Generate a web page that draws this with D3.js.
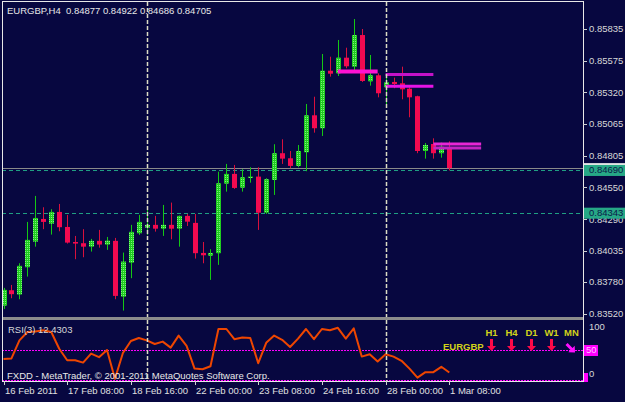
<!DOCTYPE html>
<html>
<head>
<meta charset="utf-8">
<script src="https://cdn.jsdelivr.net/npm/d3@7"></script>
<style>
html, body { margin: 0; padding: 0; background: #070740; }
svg { display: block; }
text { font-family: "Liberation Sans", Arial, sans-serif; }
</style>
</head>
<body>
<svg id="chart" width="625" height="402"></svg>
<script>
// ── Data ────────────────────────────────────────────────────────────────────
const titleText = "EURGBP,H4  0.84877 0.84922 0.84686 0.84705";

const opens  = [0.83588,0.83713,0.83678,0.83900,0.84108,0.84292,0.84254,0.84349,0.84227,0.84105,
                0.84095,0.84067,0.84114,0.84084,0.84114,0.83661,0.83937,0.84176,0.84222,0.84244,
                0.84213,0.84244,0.84213,0.84317,0.84260,0.84016,0.83994,0.84014,0.84579,0.84658,
                0.84546,0.84625,0.84636,0.84343,0.84609,0.84826,0.84785,0.84723,0.84834,0.85134,
                0.85029,0.85496,0.85475,0.85602,0.85529,0.85786,0.85410,0.85459,0.85362,0.85405,
                0.85394,0.85350,0.85289,0.84844,0.84901,0.84826,0.84877];
const highs  = [0.83732,0.83756,0.83932,0.84268,0.84479,0.84387,0.84371,0.84414,0.84325,0.84154,
                0.84209,0.84130,0.84203,0.84146,0.84138,0.84019,0.84244,0.84325,0.84371,0.84317,
                0.84406,0.84425,0.84320,0.84333,0.84333,0.84105,0.84046,0.84676,0.84739,0.84731,
                0.84696,0.84712,0.84712,0.84623,0.84899,0.84939,0.84844,0.84893,0.85226,0.85285,
                0.85632,0.85610,0.85746,0.85683,0.85916,0.85835,0.85624,0.85475,0.85475,0.85440,
                0.85529,0.85362,0.85293,0.84909,0.84947,0.84912,0.84922];
const lows   = [0.83561,0.83648,0.83640,0.83824,0.84067,0.84209,0.84165,0.84192,0.84092,0.83965,
                0.83981,0.84027,0.84059,0.84041,0.83640,0.83548,0.83811,0.84162,0.84162,0.84189,
                0.84154,0.84127,0.84067,0.84235,0.83970,0.83932,0.83797,0.83919,0.84514,0.84536,
                0.84514,0.84587,0.84203,0.84333,0.84487,0.84739,0.84704,0.84712,0.84680,0.84993,
                0.84966,0.85448,0.85453,0.85516,0.85480,0.85405,0.85375,0.85280,0.85204,0.85354,
                0.85264,0.85118,0.84826,0.84782,0.84782,0.84790,0.84686];
const closes = [0.83716,0.83681,0.83911,0.84122,0.84300,0.84268,0.84349,0.84225,0.84100,0.84092,
                0.84067,0.84114,0.84084,0.84116,0.83667,0.83946,0.84187,0.84268,0.84244,0.84213,
                0.84244,0.84213,0.84317,0.84270,0.84014,0.83997,0.84016,0.84582,0.84658,0.84544,
                0.84631,0.84636,0.84343,0.84615,0.84826,0.84782,0.84723,0.84844,0.85134,0.85029,
                0.85496,0.85472,0.85602,0.85532,0.85786,0.85413,0.85459,0.85313,0.85402,0.85388,
                0.85345,0.85280,0.84844,0.84893,0.84826,0.84879,0.84705];

const rsiValues = [35,36,66,80,81,83,80,52,33,33,29,44,38,50,2,45,65,70,66,60,
                   64,54,74,57,19,18,23,85,85,68,71,70,28,62,74,67,55,69,85,68,
                   85,83,87,69,86,39,43,31,43,39,32,19,4,13,13,22,12.4303];

const priceTicks = [0.85835,0.85575,0.85320,0.85065,0.84805,0.84550,0.84290,0.84035,0.83780,0.83520];
const dateTickIdx = [0, 8, 16, 24, 32, 40, 48, 56];
const dateLabels  = ["16 Feb 2011","17 Feb 08:00","18 Feb 16:00","22 Feb 00:00",
                     "23 Feb 08:00","24 Feb 16:00","28 Feb 00:00","1 Mar 08:00"];

const bidPrice   = 0.84705;
const hLinePrices = [0.84690, 0.84343];
const vLineIdx    = [18, 48];

// horizontal level segments drawn by an indicator: from bar, to bar, price
const segStart  = [42, 48, 48, 54, 54];
const segEnd    = [47, 54, 54, 60, 60];
const segPrices = [0.85490, 0.85466, 0.85370, 0.84901, 0.84869];

const rsiLabel   = "RSI(3) 12.4303";
const rsiLevels  = [50, 0];
const rsiTicks   = ["100", "50", "0"];
const copyright  = "FXDD - MetaTrader, \u00a9 2001-2011 MetaQuotes Software Corp.";
const tfLabels   = ["H1", "H4", "D1", "W1", "MN"];
const tfSignals  = ["down", "down", "down", "down", "downright"];
const pairName   = "EURGBP";

// ── Layout ──────────────────────────────────────────────────────────────────
const BG = "#070740";
const L = 2, R = 583, T = 2, MAIN_B = 317, RSI_T = 320, RSI_B = 381;

const svg = d3.select("#chart");
svg.append("rect").attr("width", 625).attr("height", 402).attr("fill", BG);

const defs = svg.append("defs");
const pat = defs.append("pattern").attr("id", "bull").attr("patternUnits", "userSpaceOnUse")
    .attr("width", 2).attr("height", 2);
pat.append("rect").attr("width", 2).attr("height", 2).attr("fill", "#1fcc1f");
pat.append("rect").attr("x", 1).attr("y", 1).attr("width", 1).attr("height", 1).attr("fill", "#7ef07e");

defs.append("clipPath").attr("id", "clipMain").append("rect")
    .attr("x", L).attr("y", T).attr("width", R - L).attr("height", MAIN_B - T);
defs.append("clipPath").attr("id", "clipRsi").append("rect")
    .attr("x", L).attr("y", RSI_T).attr("width", R - L).attr("height", RSI_B - RSI_T);

const x = d3.scaleLinear().domain([0, 56]).range([3.5, 449.3]);
const y = d3.scaleLinear().domain([0.83520, 0.85835]).range([314, 29]);
const yr = d3.scaleLinear().domain([0, 100]).range([380, 320]);

const bars = opens.map((o, i) => ({ i, o, h: highs[i], l: lows[i], c: closes[i] }));

// ── Main window ─────────────────────────────────────────────────────────────
const gMain = svg.append("g").attr("clip-path", "url(#clipMain)");

// bid line
gMain.append("line").attr("x1", L).attr("x2", R)
    .attr("y1", Math.round(y(bidPrice)) + 0.5).attr("y2", Math.round(y(bidPrice)) + 0.5)
    .attr("stroke", "#8a8a8a");

// dashed horizontal lines
gMain.selectAll(".hl").data(hLinePrices).join("line")
    .attr("x1", L).attr("x2", R)
    .attr("y1", d => Math.round(y(d)) + 0.5).attr("y2", d => Math.round(y(d)) + 0.5)
    .attr("stroke", "#1f9f82").attr("stroke-dasharray", "4,3");

// wicks
gMain.selectAll(".wick").data(bars).join("line")
    .attr("x1", d => Math.round(x(d.i)) + 0.5).attr("x2", d => Math.round(x(d.i)) + 0.5)
    .attr("y1", d => y(d.h)).attr("y2", d => y(d.l))
    .attr("stroke", d => d.c >= d.o ? "#14c814" : "#d8103c").attr("stroke-width", 1);

// bodies
gMain.selectAll(".body").data(bars).join("rect")
    .attr("x", d => Math.round(x(d.i)) - 2)
    .attr("width", 5)
    .attr("y", d => y(Math.max(d.o, d.c)))
    .attr("height", d => Math.max(1.2, Math.abs(y(d.o) - y(d.c))))
    .attr("fill", d => d.c >= d.o ? "url(#bull)" : "#f20a50");

// indicator level segments
const segColors = ["#ff12d2", "#c412c8", "#e614e6", "#e826d6", "#c424c4"];
const segWidths = [4, 3, 3, 3, 3];
gMain.selectAll(".seg").data(segPrices).join("line")
    .attr("x1", (d, k) => x(segStart[k])).attr("x2", (d, k) => x(segEnd[k]))
    .attr("y1", d => y(d)).attr("y2", d => y(d))
    .attr("stroke", (d, k) => segColors[k]).attr("stroke-width", (d, k) => segWidths[k]);

// title
svg.append("text").attr("x", 7).attr("y", 13.5).attr("fill", "#e8e8e8")
    .attr("font-size", 9.5).attr("xml:space", "preserve").text(titleText);

// ── RSI window ──────────────────────────────────────────────────────────────
const gRsi = svg.append("g").attr("clip-path", "url(#clipRsi)");
gRsi.selectAll(".lvl").data(rsiLevels).join("line")
    .attr("x1", L).attr("x2", R)
    .attr("y1", d => Math.round(yr(d)) + 0.5).attr("y2", d => Math.round(yr(d)) + 0.5)
    .attr("stroke", "#ff00ff").attr("stroke-dasharray", "2,1");

gRsi.append("path").datum(rsiValues)
    .attr("d", d3.line().x((d, i) => x(i)).y(d => yr(d)))
    .attr("fill", "none").attr("stroke", "#ee4600").attr("stroke-width", 2)
    .attr("stroke-linejoin", "round");

svg.append("text").attr("x", 8).attr("y", 333).attr("fill", "#d8d8d8")
    .attr("font-size", 9.5).text(rsiLabel);
svg.append("text").attr("x", 7).attr("y", 379).attr("fill", "#e8e8e8")
    .attr("font-size", 9.5).text(copyright);

// multi-timeframe signal panel
const tfx = d3.scalePoint().domain(tfLabels).range([491.5, 571.5]);
svg.selectAll(".tf").data(tfLabels).join("text")
    .attr("x", d => tfx(d)).attr("y", 336).attr("text-anchor", "middle")
    .attr("fill", "#d2d21a").attr("font-size", 9.5).attr("font-weight", "bold").text(d => d);
svg.append("text").attr("x", 443).attr("y", 350).attr("fill", "#d2d21a")
    .attr("font-size", 9.5).attr("font-weight", "bold").text(pairName);
svg.selectAll(".arrow").data(tfLabels).join("path")
    .attr("transform", (d, k) => tfSignals[k] === "down"
        ? `translate(${tfx(d)},346)` : `translate(${tfx(d)},349) rotate(-45)`)
    .attr("d", "M-1.5,-7 L1.5,-7 L1.5,0 L4.5,0 L0,5 L-4.5,0 L-1.5,0 Z")
    .attr("fill", (d, k) => tfSignals[k] === "down" ? "#ff0a48" : "#ff10ff");

// ── Vertical dashed lines ───────────────────────────────────────────────────
svg.selectAll(".vl").data(vLineIdx).join("line")
    .attr("x1", d => Math.round(x(d)) + 0.5).attr("x2", d => Math.round(x(d)) + 0.5)
    .attr("y1", T).attr("y2", RSI_B)
    .attr("stroke", "#dcdcc4").attr("stroke-width", 1.5).attr("stroke-dasharray", "4,2");

// ── Frames ──────────────────────────────────────────────────────────────────
svg.append("rect").attr("x", L).attr("y", MAIN_B).attr("width", R - L + 1).attr("height", 3)
    .attr("fill", "#8c8c8c");
const frame = svg.append("g").attr("stroke", "#e8e8e8").attr("fill", "none");
frame.append("line").attr("x1", L + 0.5).attr("x2", L + 0.5).attr("y1", T).attr("y2", RSI_B + 1);
frame.append("line").attr("x1", R + 0.5).attr("x2", R + 0.5).attr("y1", T).attr("y2", RSI_B + 1);
frame.append("line").attr("x1", L).attr("x2", R + 1).attr("y1", T - 0.5).attr("y2", T - 0.5);
frame.append("line").attr("x1", L).attr("x2", R + 1).attr("y1", RSI_B + 0.5).attr("y2", RSI_B + 0.5);

// ── Price axis ──────────────────────────────────────────────────────────────
const axisP = svg.append("g");
axisP.selectAll("line").data(priceTicks).join("line")
    .attr("x1", R).attr("x2", R + 4)
    .attr("y1", d => Math.round(y(d)) + 0.5).attr("y2", d => Math.round(y(d)) + 0.5)
    .attr("stroke", "#d0d0d0");
axisP.selectAll("text").data(priceTicks).join("text")
    .attr("x", 589).attr("y", d => y(d)).attr("dy", "0.35em")
    .attr("fill", "#d8d8d8").attr("font-size", 9.5).text(d => d.toFixed(5));

// bid marker (mostly hidden) and line price boxes
svg.append("rect").attr("x", 584).attr("y", y(bidPrice) - 5).attr("width", 41).attr("height", 11)
    .attr("fill", "#e8e8e8");
const boxes = svg.selectAll(".pbox").data(hLinePrices).join("g");
boxes.append("rect").attr("x", 584).attr("y", d => y(d) - 5).attr("width", 41).attr("height", 11)
    .attr("fill", "#26a886");
boxes.append("text").attr("x", 589).attr("y", d => y(d)).attr("dy", "0.35em")
    .attr("fill", "#0a1848").attr("font-size", 9.5).text(d => d.toFixed(5));

// RSI axis
svg.append("text").attr("x", 589).attr("y", yr(100) + 7).attr("dy", "0.35em")
    .attr("fill", "#d8d8d8").attr("font-size", 9.5).text(rsiTicks[0]);
svg.append("rect").attr("x", 584).attr("y", yr(50) - 5).attr("width", 14).attr("height", 11)
    .attr("fill", "#ff00ff");
svg.append("text").attr("x", 586).attr("y", yr(50)).attr("dy", "0.35em")
    .attr("fill", "#ffc0ff").attr("font-size", 9.5).text(rsiTicks[1]);
svg.append("rect").attr("x", 584).attr("y", yr(0) - 7).attr("width", 4).attr("height", 9)
    .attr("fill", "#ff00ff");
svg.append("text").attr("x", 589).attr("y", yr(0) - 6).attr("dy", "0.35em")
    .attr("fill", "#d8d8d8").attr("font-size", 9.5).text(rsiTicks[2]);

// ── Time axis ───────────────────────────────────────────────────────────────
const axisT = svg.append("g");
axisT.selectAll("line").data(dateTickIdx).join("line")
    .attr("x1", d => Math.round(x(d)) + 0.5).attr("x2", d => Math.round(x(d)) + 0.5)
    .attr("y1", RSI_B).attr("y2", RSI_B + 4).attr("stroke", "#d0d0d0");
axisT.selectAll("text").data(dateTickIdx).join("text")
    .attr("x", d => Math.round(x(d)) + 1).attr("y", 394)
    .attr("fill", "#e0e0e0").attr("font-size", 9.5).text((d, k) => dateLabels[k]);
</script>
</body>
</html>
